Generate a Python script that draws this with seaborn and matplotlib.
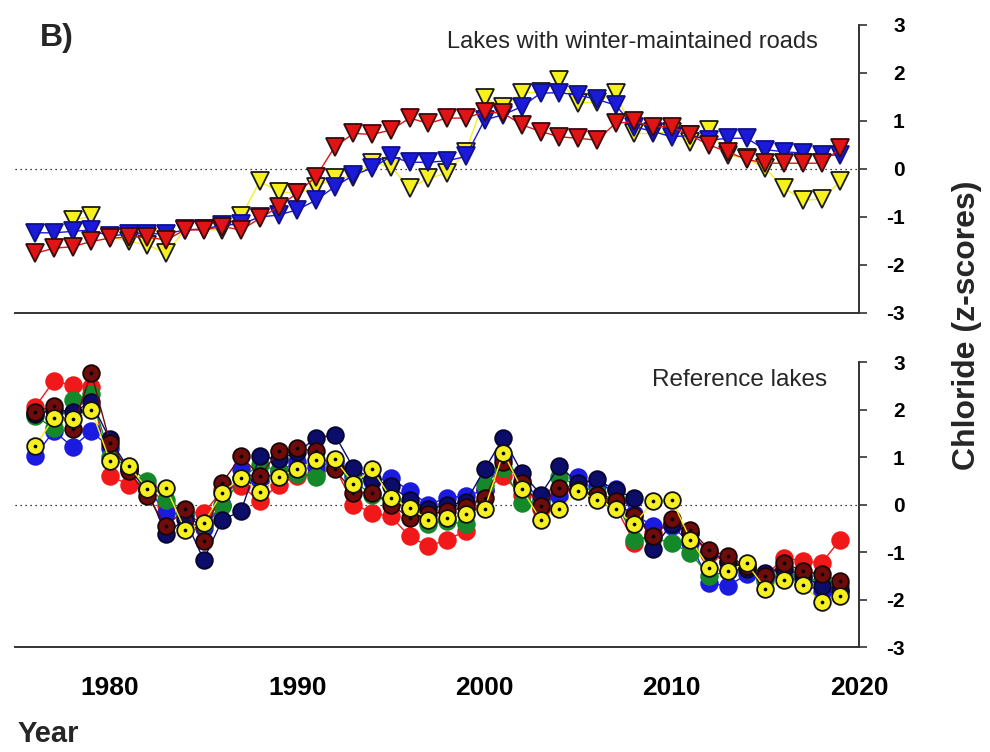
import numpy as np
import pandas as pd
import matplotlib
matplotlib.use("Agg")
import matplotlib.pyplot as plt
import seaborn as sns

sns.set_style("white")
plt.rcParams["font.family"] = ["Liberation Sans", "DejaVu Sans"]

years = list(range(1976, 2020))

# Lakes with winter-maintained roads (z-scores)
road_blue = [-1.33, -1.33, -1.30, -1.27, -1.40, -1.35, -1.35, -1.35, -1.27, -1.25,
             -1.17, -1.15, -1.00, -0.96, -0.85, -0.65, -0.37, -0.13, 0.02, 0.26,
             0.14, 0.14, 0.17, 0.26, 1.02, 1.13, 1.30, 1.58, 1.59, 1.54,
             1.45, 1.33, 0.88, 0.78, 0.67, 0.70, 0.60, 0.64, 0.64, 0.40,
             0.36, 0.33, 0.29, 0.29]
road_red = [-1.76, -1.65, -1.62, -1.51, -1.44, -1.42, -1.42, -1.48, -1.27, -1.27,
            -1.20, -1.27, -1.03, -0.79, -0.50, -0.16, 0.46, 0.74, 0.72, 0.81,
            1.06, 0.95, 1.06, 1.06, 1.19, 1.16, 0.92, 0.78, 0.67, 0.64,
            0.60, 0.95, 0.99, 0.88, 0.88, 0.70, 0.50, 0.35, 0.20, 0.12,
            0.12, 0.12, 0.12, 0.43]
road_yellow = [np.nan, np.nan, -1.06, -0.99, -1.41, -1.51, -1.58, -1.76, -1.26, -1.26,
               -1.27, -0.99, -0.26, -0.47, -0.51, -0.37, -0.19, -0.16, 0.12, 0.05,
               -0.40, -0.19, -0.09, 0.36, 1.47, 1.30, 1.58, 1.61, 1.85, 1.37,
               1.40, 1.58, 0.74, 0.74, 0.78, 0.57, 0.81, 0.29, 0.22, 0.01,
               -0.40, -0.65, -0.63, -0.26]

# Reference lakes (z-scores)
ref_red = [2.05, 2.60, 2.51, 2.47, 0.60, 0.42, 0.40, 0.00, -0.15, -0.18,
           0.30, 0.40, 0.07, 0.42, 0.60, 0.65, 0.80, 0.00, -0.17, -0.25,
           -0.67, -0.88, -0.74, -0.56, 0.30, 0.60, 0.20, -0.10, 0.30, 0.30,
           0.15, -0.05, -0.80, -0.60, -0.40, -0.60, -1.05, -1.20, -1.30, -1.50,
           -1.12, -1.19, -1.23, -0.74]
ref_blue = [1.02, 1.55, 1.21, 1.54, 1.20, 0.75, 0.35, -0.18, -0.20, -0.50,
            0.00, 0.74, 0.50, 0.70, 0.90, 0.80, 0.90, 0.60, 0.50, 0.56,
            0.28, 0.00, 0.14, 0.18, 0.30, 1.00, 0.50, 0.10, 0.18, 0.57,
            0.40, 0.32, -0.20, -0.46, -0.46, -0.80, -1.65, -1.72, -1.47, -1.55,
            -1.50, -1.65, -1.85, -1.85]
ref_green = [1.86, 1.61, 2.21, 2.32, 1.00, 0.80, 0.49, 0.10, -0.20, -0.40,
             -0.03, 0.55, 0.84, 0.70, 0.65, 0.58, 0.80, 0.50, 0.20, 0.10,
             -0.10, -0.40, -0.35, -0.42, 0.42, 0.77, 0.04, 0.05, 0.57, 0.40,
             0.25, 0.10, -0.74, -0.70, -0.81, -1.02, -1.51, -1.40, -1.35, -1.60,
             -1.40, -1.55, -1.60, -1.70]
ref_navy = [1.90, 2.00, 1.95, 2.15, 1.37, 0.75, 0.30, -0.63, -0.30, -1.16,
            -0.32, -0.14, 1.02, 0.95, 1.10, 1.40, 1.47, 0.77, 0.53, 0.40,
            0.10, -0.10, 0.00, 0.05, 0.74, 1.40, 0.67, 0.21, 0.81, 0.45,
            0.53, 0.30, 0.14, -0.93, -0.40, -0.60, -1.00, -1.20, -1.35, -1.44,
            -1.35, -1.50, -1.72, -1.80]
ref_maroon = [1.95, 2.07, 1.59, 2.77, 1.30, 0.70, 0.18, -0.46, -0.10, -0.77,
              0.46, 1.02, 0.60, 1.12, 1.19, 1.12, 0.75, 0.25, 0.25, 0.00,
              -0.28, -0.20, -0.14, -0.05, 0.14, 0.90, 0.46, -0.03, 0.35, 0.30,
              0.20, 0.07, -0.25, -0.67, -0.30, -0.53, -0.95, -1.09, -1.30, -1.50,
              -1.23, -1.40, -1.47, -1.61]
ref_yellow = [1.23, 1.82, 1.80, 2.00, 0.91, 0.82, 0.32, 0.35, -0.53, -0.39,
              0.25, 0.56, 0.27, 0.58, 0.75, 0.93, 0.96, 0.44, 0.75, 0.14,
              -0.07, -0.32, -0.28, -0.21, -0.10, 1.09, 0.32, -0.32, -0.09, 0.28,
              0.10, -0.10, -0.42, 0.07, 0.10, -0.74, -1.33, -1.39, -1.24, -1.77,
              -1.59, -1.70, -2.06, -1.93]

yticks = [-3, -2, -1, 0, 1, 2, 3]
xticks = [1980, 1990, 2000, 2010, 2020]

fig = plt.figure(figsize=(9.9, 7.52), dpi=100)
ax_top = fig.add_axes([0.0152, 0.5838, 0.8525, 0.383])
ax_bot = fig.add_axes([0.0152, 0.1396, 0.8525, 0.379])


def style_axis(ax, show_xlabels):
    ax.set_xlim(1974.93, 2020)
    ax.set_ylim(-3, 3)
    for side in ("top", "left"):
        ax.spines[side].set_visible(False)
    for side in ("bottom", "right"):
        ax.spines[side].set_color("#333333")
        ax.spines[side].set_linewidth(1.4)
    ax.yaxis.tick_right()
    ax.set_yticks(yticks)
    ax.set_yticklabels([str(t) for t in yticks], fontsize=15, fontweight="bold",
                       ha="right")
    ax.tick_params(axis="y", direction="out", length=6, width=1.2,
                   colors="#333333", labelcolor="black", pad=27)
    ax.set_xticks(xticks)
    ax.tick_params(axis="x", direction="out", length=7, width=1.2,
                   colors="#333333", labelcolor="black", pad=14)
    if show_xlabels:
        ax.set_xticklabels([str(t) for t in xticks], fontsize=19,
                           fontweight="bold")
    else:
        ax.set_xticklabels([])
    ax.set_xlabel("")
    ax.set_ylabel("")
    ax.axhline(0, color="black", lw=0.9, ls=(0, (1, 3)), zorder=0)
    ax.grid(False)


def draw(ax, values, color, marker, edge, size, z, lw=1.0, dot=False):
    df = pd.DataFrame({"year": years, "z": values}).dropna()
    sns.lineplot(data=df, x="year", y="z", ax=ax, color=color, lw=lw,
                 marker=marker, markersize=size, markerfacecolor=color,
                 markeredgecolor=edge, markeredgewidth=1.3, zorder=z,
                 legend=False)
    if dot:
        sns.scatterplot(data=df, x="year", y="z", ax=ax, color="black",
                        s=7, linewidth=0, zorder=z + 0.5, legend=False)


# Upper panel: lakes with winter-maintained roads
draw(ax_top, road_yellow, "#f5f01e", "v", "#1a1a1a", 12.5, 3)
draw(ax_top, road_blue, "#1a1ad8", "v", "#10108a", 12.5, 4)
draw(ax_top, road_red, "#e01414", "v", "#3a0a0a", 12.5, 5)
style_axis(ax_top, False)
ax_top.text(0.951, 0.941, "Lakes with winter-maintained roads",
            transform=ax_top.transAxes, ha="right", va="center", fontsize=17)

# Lower panel: reference lakes
draw(ax_bot, ref_red, "#f01818", "o", "#f01818", 12, 3)
draw(ax_bot, ref_blue, "#1a1ae0", "o", "#1a1ae0", 12, 4)
draw(ax_bot, ref_green, "#15882a", "o", "#15882a", 12, 5)
draw(ax_bot, ref_navy, "#0c0c6a", "o", "#05052e", 12, 6)
draw(ax_bot, ref_maroon, "#6e0c0c", "o", "#1a0505", 12, 7, dot=True)
draw(ax_bot, ref_yellow, "#f5f01e", "o", "#111111", 12, 8, dot=True)
style_axis(ax_bot, True)
ax_bot.text(0.962, 0.937, "Reference lakes", transform=ax_bot.transAxes,
            ha="right", va="center", fontsize=17.5)

fig.text(0.04, 0.95, "B)", fontsize=23, fontweight="bold", va="center")
fig.text(0.018, 0.0135, "Year", fontsize=21, fontweight="bold", va="baseline")
fig.text(0.977, 0.568, "Chloride (z-scores)", rotation=90, fontsize=23,
         fontweight="bold", ha="center", va="center")

fig.savefig("out.png", dpi=100)
